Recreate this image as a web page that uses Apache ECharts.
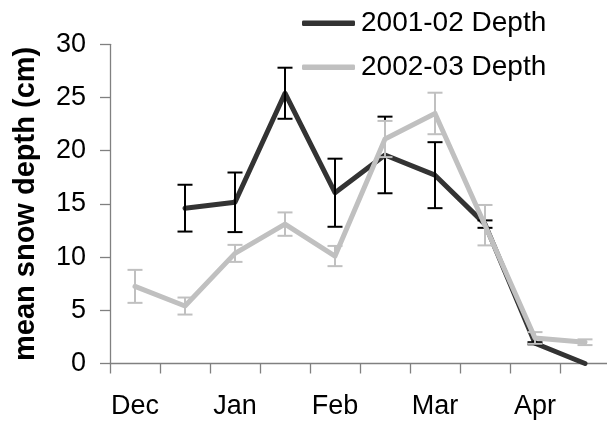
<!DOCTYPE html>
<html>
<head>
<meta charset="utf-8">
<script src="https://cdn.jsdelivr.net/npm/echarts@6/dist/echarts.min.js"></script>
<style>
  html, body { margin: 0; padding: 0; background: #fff; }
  #chart { width: 607px; height: 425px; }
</style>
</head>
<body>
<div id="chart"></div>
<script>
// Half-month sampling periods, December through April
const periods = ['Dec 1', 'Dec 15', 'Jan 1', 'Jan 15', 'Feb 1', 'Feb 15', 'Mar 1', 'Mar 15', 'Apr 1', 'Apr 15'];
const monthLabels = ['Dec', 'Jan', 'Feb', 'Mar', 'Apr'];
const yTicks = [0, 5, 10, 15, 20, 25, 30];

// Mean snow depth (cm) and error half-widths per season
const depth0102 = [null, 14.6, 15.15, 25.4, 16.05, 19.6, 17.7, 13.1, 1.9, 0];
const err0102   = [null, 2.2, 2.8, 2.4, 3.2, 3.6, 3.1, 0.35, 0.1, null];
const depth0203 = [7.25, 5.4, 10.35, 13.1, 10.1, 21.1, 23.5, 13.0, 2.4, 2.0];
const err0203   = [1.55, 0.8, 0.8, 1.1, 0.95, 1.7, 1.95, 1.9, 0.55, 0.27];

const FONT = '"Liberation Sans", Arial, sans-serif';
const DARK = '#333333';
const LIGHT = '#c0c0c0';

function errorData(values, errs) {
  const out = [];
  values.forEach((v, i) => {
    if (v != null && errs[i] != null) out.push([i, v - errs[i], v + errs[i]]);
  });
  return out;
}

function errorBars(color) {
  return function (params, api) {
    const lo = api.coord([api.value(0), api.value(1)]);
    const hi = api.coord([api.value(0), api.value(2)]);
    const half = 7.5;
    const style = { stroke: color, lineWidth: 2 };
    return {
      type: 'group',
      children: [
        { type: 'line', shape: { x1: lo[0], y1: lo[1], x2: hi[0], y2: hi[1] }, style },
        { type: 'line', shape: { x1: hi[0] - half, y1: hi[1], x2: hi[0] + half, y2: hi[1] }, style },
        { type: 'line', shape: { x1: lo[0] - half, y1: lo[1], x2: lo[0] + half, y2: lo[1] }, style }
      ]
    };
  };
}

const chart = echarts.init(document.getElementById('chart'), null, { renderer: 'canvas' });

chart.setOption({
  animation: false,
  backgroundColor: '#ffffff',
  grid: { left: 110, right: -3, top: 44.3, bottom: 61.5, containLabel: false, outerBoundsMode: 'none' },
  legend: {
    orient: 'vertical',
    left: 297,
    top: 4.3,
    itemGap: 16,
    itemWidth: 53,
    itemHeight: 5.5,
    itemStyle: { borderWidth: 0 },
    icon: 'roundRect',
    textStyle: { fontFamily: FONT, fontSize: 28, color: '#000', lineHeight: 28, padding: [0, 0, 0, 1] },
    data: ['2001-02 Depth', '2002-03 Depth']
  },
  xAxis: {
    type: 'category',
    data: periods,
    boundaryGap: true,
    axisLine: { lineStyle: { color: '#808080', width: 1.3 } },
    axisTick: { show: true, length: 10, interval: 0, alignWithLabel: false, lineStyle: { color: '#808080', width: 1.3 } },
    axisLabel: {
      interval: 0,
      margin: 30,
      fontFamily: FONT,
      fontSize: 27,
      color: '#000',
      formatter: (v, i) => (i % 2 === 0 ? monthLabels[i / 2] : '')
    },
    splitLine: { show: false }
  },
  yAxis: {
    type: 'value',
    min: 0,
    max: 30,
    interval: 5,
    name: 'mean snow depth (cm)',
    nameLocation: 'middle',
    nameRotate: 90,
    nameGap: 70,
    nameTextStyle: { fontFamily: FONT, fontSize: 29, fontWeight: 'bold', color: '#000' },
    axisLine: { show: true, lineStyle: { color: '#808080', width: 1.3 } },
    axisTick: { show: true, length: 10, lineStyle: { color: '#808080', width: 1.3 } },
    axisLabel: {
      margin: 24,
      fontFamily: FONT,
      fontSize: 27,
      color: '#000',
      formatter: v => (yTicks.indexOf(v) >= 0 ? String(v) : '')
    },
    splitLine: { show: false }
  },
  series: [
    {
      name: '2001-02 Depth',
      type: 'line',
      data: depth0102,
      showSymbol: false,
      symbol: 'none',
      z: 2,
      color: DARK,
      lineStyle: { color: DARK, width: 5, cap: 'round', join: 'round' }
    },
    {
      name: '2001-02 error',
      type: 'custom',
      data: errorData(depth0102, err0102),
      renderItem: errorBars('#000000'),
      z: 3,
      silent: true
    },
    {
      name: '2002-03 Depth',
      type: 'line',
      data: depth0203,
      showSymbol: false,
      symbol: 'none',
      z: 4,
      color: LIGHT,
      lineStyle: { color: LIGHT, width: 5, cap: 'round', join: 'round' }
    },
    {
      name: '2002-03 error',
      type: 'custom',
      data: errorData(depth0203, err0203),
      renderItem: errorBars(LIGHT),
      z: 5,
      silent: true
    }
  ]
});
</script>
</body>
</html>
